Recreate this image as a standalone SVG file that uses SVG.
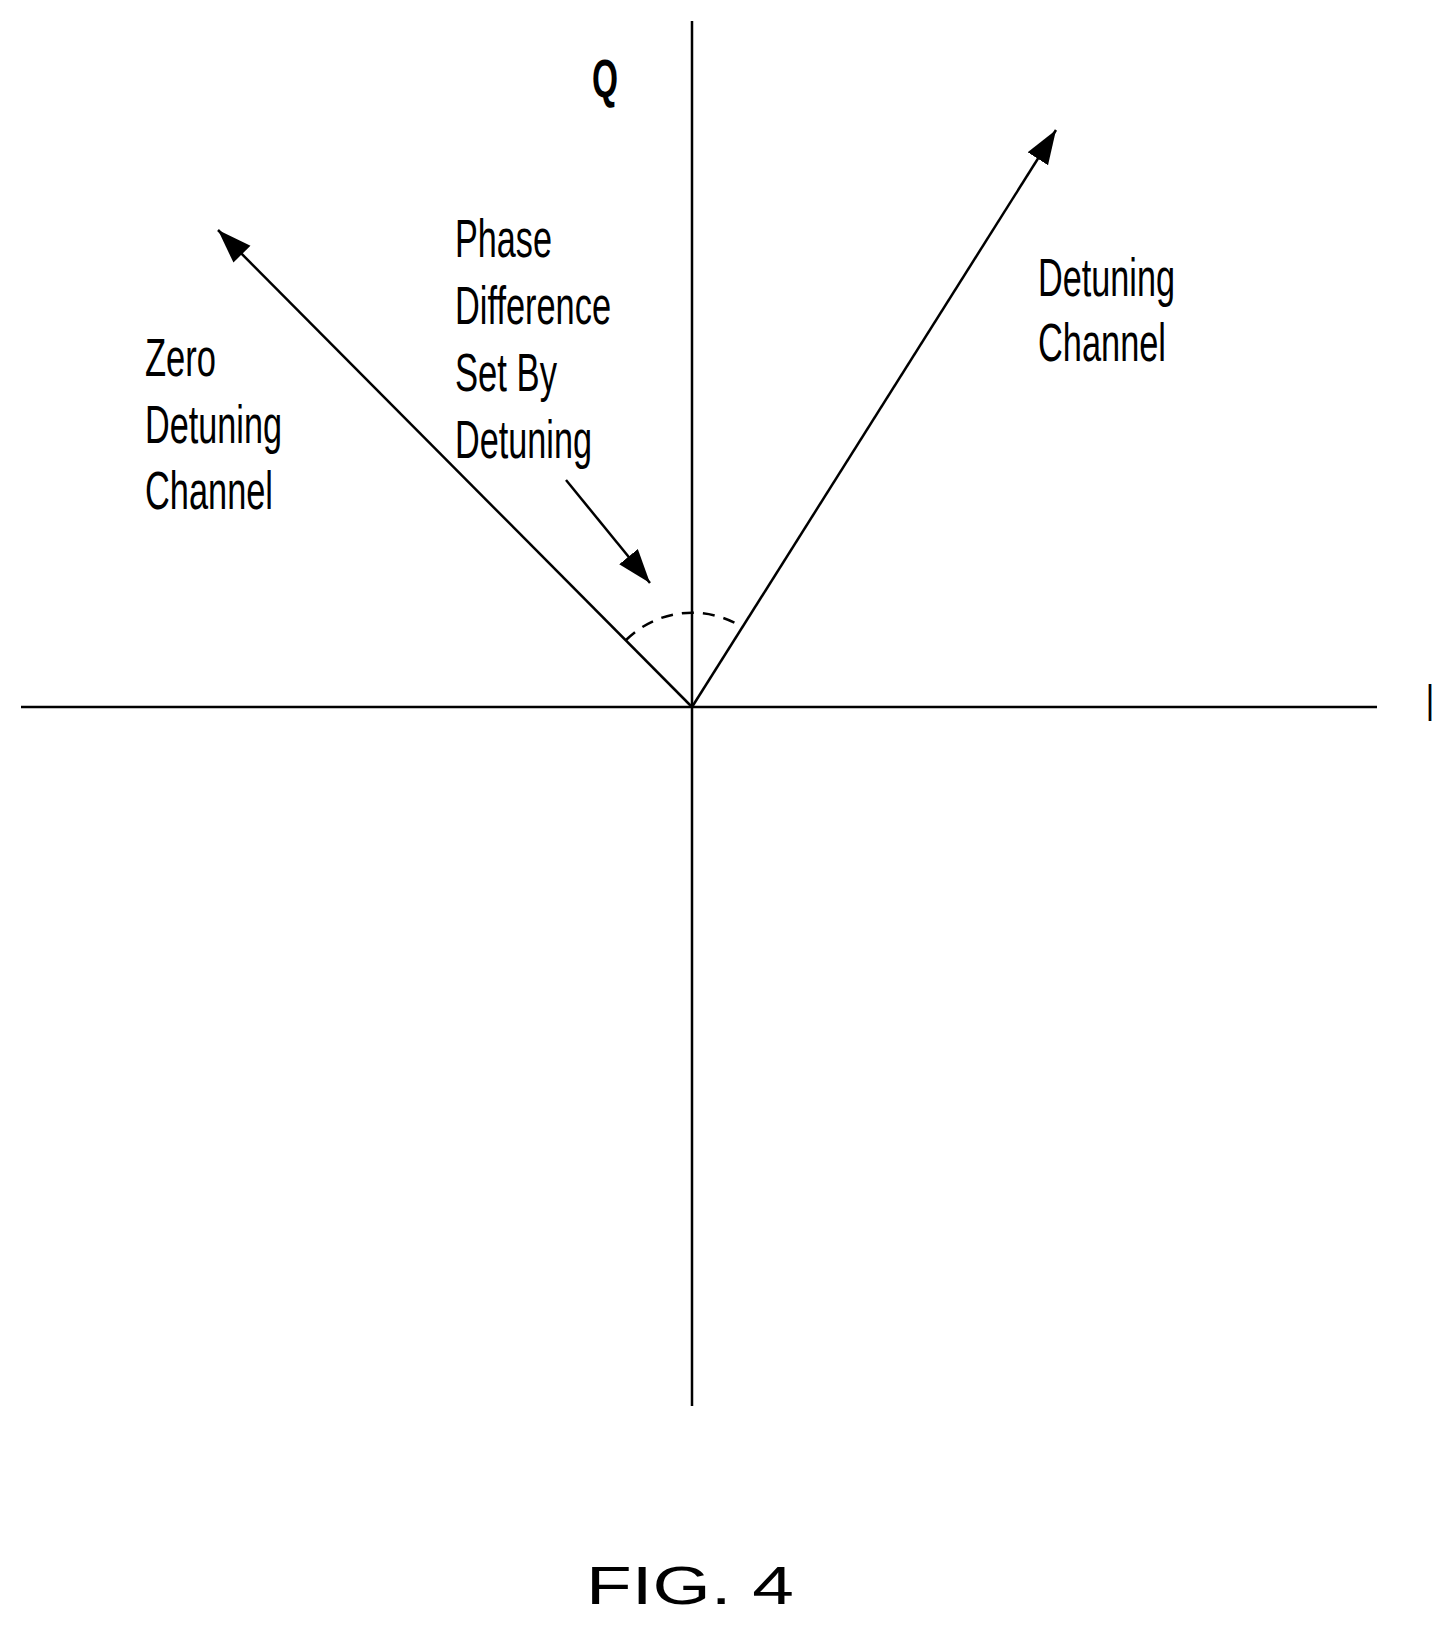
<svg xmlns="http://www.w3.org/2000/svg" width="1454" height="1626" viewBox="0 0 1454 1626">
<style>
.l{stroke:#000;stroke-width:2.5;fill:none}
.t{font-family:"Liberation Sans",Arial,sans-serif;font-size:53px;fill:#000}
</style>
<defs>
<marker id="ah" markerUnits="userSpaceOnUse" markerWidth="36" markerHeight="26" refX="34" refY="12" orient="auto"><path d="M0,0 L34,12 L0,24 Z" fill="#000"/></marker>
</defs>
<rect width="1454" height="1626" fill="#fff"/>
<g id="axes">
<line class="l" x1="692" y1="21" x2="692" y2="1406"/>
<line class="l" x1="21" y1="707" x2="1377" y2="707"/>
</g>
<g id="connectors">
<line class="l" x1="692" y1="707" x2="218" y2="230" marker-end="url(#ah)"/>
<line class="l" x1="692" y1="707" x2="1056" y2="130" marker-end="url(#ah)"/>
<line class="l" x1="566" y1="480" x2="650" y2="583" stroke-width="3" marker-end="url(#ah)"/>
<path class="l" d="M626,640 A94,94 0 0 1 742,627" stroke-dasharray="12,9"/>
</g>
<g id="labels">
<text class="t" x="592" y="97" font-weight="bold" font-size="36" textLength="26" lengthAdjust="spacingAndGlyphs">Q</text>
<text class="t" x="1426" y="721" textLength="8" lengthAdjust="spacingAndGlyphs">I</text>
</g>
<g id="zero">
<text class="t" x="145" y="376" textLength="71" lengthAdjust="spacingAndGlyphs">Zero</text>
<text class="t" x="145" y="443" textLength="137" lengthAdjust="spacingAndGlyphs">Detuning</text>
<text class="t" x="145" y="509" textLength="128" lengthAdjust="spacingAndGlyphs">Channel</text>
</g>
<g id="phase">
<text class="t" x="455" y="257" textLength="97" lengthAdjust="spacingAndGlyphs">Phase</text>
<text class="t" x="455" y="324" textLength="156" lengthAdjust="spacingAndGlyphs">Difference</text>
<text class="t" x="455" y="391" textLength="102" lengthAdjust="spacingAndGlyphs">Set By</text>
<text class="t" x="455" y="458" textLength="137" lengthAdjust="spacingAndGlyphs">Detuning</text>
</g>
<g id="detuning">
<text class="t" x="1038" y="296" textLength="137" lengthAdjust="spacingAndGlyphs">Detuning</text>
<text class="t" x="1038" y="361" textLength="128" lengthAdjust="spacingAndGlyphs">Channel</text>
</g>
<g id="fig">
<text class="t" x="586" y="1604" font-size="90" textLength="208" lengthAdjust="spacingAndGlyphs">FIG. 4</text>
</g>
</svg>
